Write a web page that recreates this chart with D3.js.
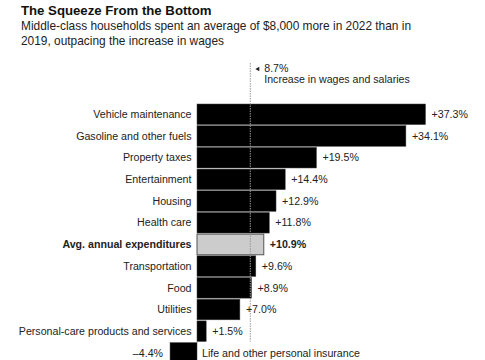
<!DOCTYPE html>
<html>
<head>
<meta charset="utf-8">
<script src="https://cdn.jsdelivr.net/npm/d3@7"></script>
<style>
  html, body { margin: 0; padding: 0; background: #fff; }
  svg { display: block; font-family: "Liberation Sans", Arial, Helvetica, sans-serif; }
</style>
</head>
<body>
<svg id="chart" width="485" height="360"></svg>
<script>
const categories = [
  "Vehicle maintenance",
  "Gasoline and other fuels",
  "Property taxes",
  "Entertainment",
  "Housing",
  "Health care",
  "Avg. annual expenditures",
  "Transportation",
  "Food",
  "Utilities",
  "Personal-care products and services",
  "Life and other personal insurance"
];
const values = [37.3, 34.1, 19.5, 14.4, 12.9, 11.8, 10.9, 9.6, 8.9, 7.0, 1.5, -4.4];
const highlight = "Avg. annual expenditures";
const wageIncrease = 8.7;

const title = "The Squeeze From the Bottom";
const subtitleLines = [
  "Middle-class households spent an average of $8,000 more in 2022 than in",
  "2019, outpacing the increase in wages"
];
const annotationLines = ["8.7%", "Increase in wages and salaries"];

const svg = d3.select("#chart");

const x = d3.scaleLinear().domain([0, 37.3]).range([197, 425.5]);
const y = d3.scaleBand().domain(categories).range([104, 104 + 12 * 21.6]).paddingInner(0.05).paddingOuter(0);

const fmt = v => (v >= 0 ? "+" : "\u2013") + Math.abs(v).toFixed(1) + "%";

// Title and subtitle
svg.append("text").attr("x", 21).attr("y", 14.5)
  .attr("font-size", 13.2).attr("font-weight", "bold").attr("fill", "#111")
  .text(title);
svg.append("g").selectAll("text").data(subtitleLines).join("text")
  .attr("x", 21).attr("y", (d, i) => 29.5 + i * 15)
  .attr("font-size", 11.9).attr("fill", "#222")
  .text(d => d);

const data = categories.map((c, i) => ({ c, v: values[i] }));

// Bars
svg.append("g").selectAll("rect").data(data).join("rect")
  .attr("x", d => x(Math.min(0, d.v)))
  .attr("y", d => y(d.c))
  .attr("width", d => Math.abs(x(d.v) - x(0)))
  .attr("height", y.bandwidth())
  .attr("fill", d => d.c === highlight ? "#cccccc" : "#000")
  .attr("stroke", d => d.c === highlight ? "#555" : "#444")
  .attr("stroke-width", d => d.c === highlight ? 1 : 0.5);

// Wage reference line
const lastPos = categories[categories.length - 2];
svg.append("line")
  .attr("x1", x(wageIncrease)).attr("x2", x(wageIncrease))
  .attr("y1", 63).attr("y2", y(lastPos) + y.bandwidth())
  .attr("stroke", "#999").attr("stroke-width", 1)
  .attr("stroke-dasharray", "1.5,1");

// Annotation
const ax = x(wageIncrease);
svg.append("path")
  .attr("d", `M${ax + 5},69 L${ax + 9},66.8 L${ax + 9},71.2 Z`)
  .attr("fill", "#222");
svg.append("g").selectAll("text").data(annotationLines).join("text")
  .attr("x", ax + 14).attr("y", (d, i) => 71.8 + i * 11)
  .attr("font-size", 10.6).attr("fill", "#222")
  .text(d => d);

// Category labels
svg.append("g").selectAll("text").data(data).join("text")
  .attr("x", d => d.v >= 0 ? x(0) - 5.5 : x(0) + 5)
  .attr("y", d => y(d.c) + y.bandwidth() / 2)
  .attr("dy", "0.35em")
  .attr("text-anchor", d => d.v >= 0 ? "end" : "start")
  .attr("font-size", 10.65)
  .attr("font-weight", d => d.c === highlight ? "bold" : "normal")
  .attr("fill", "#222")
  .text(d => d.c);

// Value labels
svg.append("g").selectAll("text").data(data).join("text")
  .attr("x", d => d.v >= 0 ? x(d.v) + 6 : x(d.v) - 7)
  .attr("y", d => y(d.c) + y.bandwidth() / 2)
  .attr("dy", "0.35em")
  .attr("text-anchor", d => d.v >= 0 ? "start" : "end")
  .attr("font-size", 10.65)
  .attr("font-weight", d => d.c === highlight ? "bold" : "normal")
  .attr("fill", "#222")
  .text(d => fmt(d.v));
</script>
</body>
</html>
